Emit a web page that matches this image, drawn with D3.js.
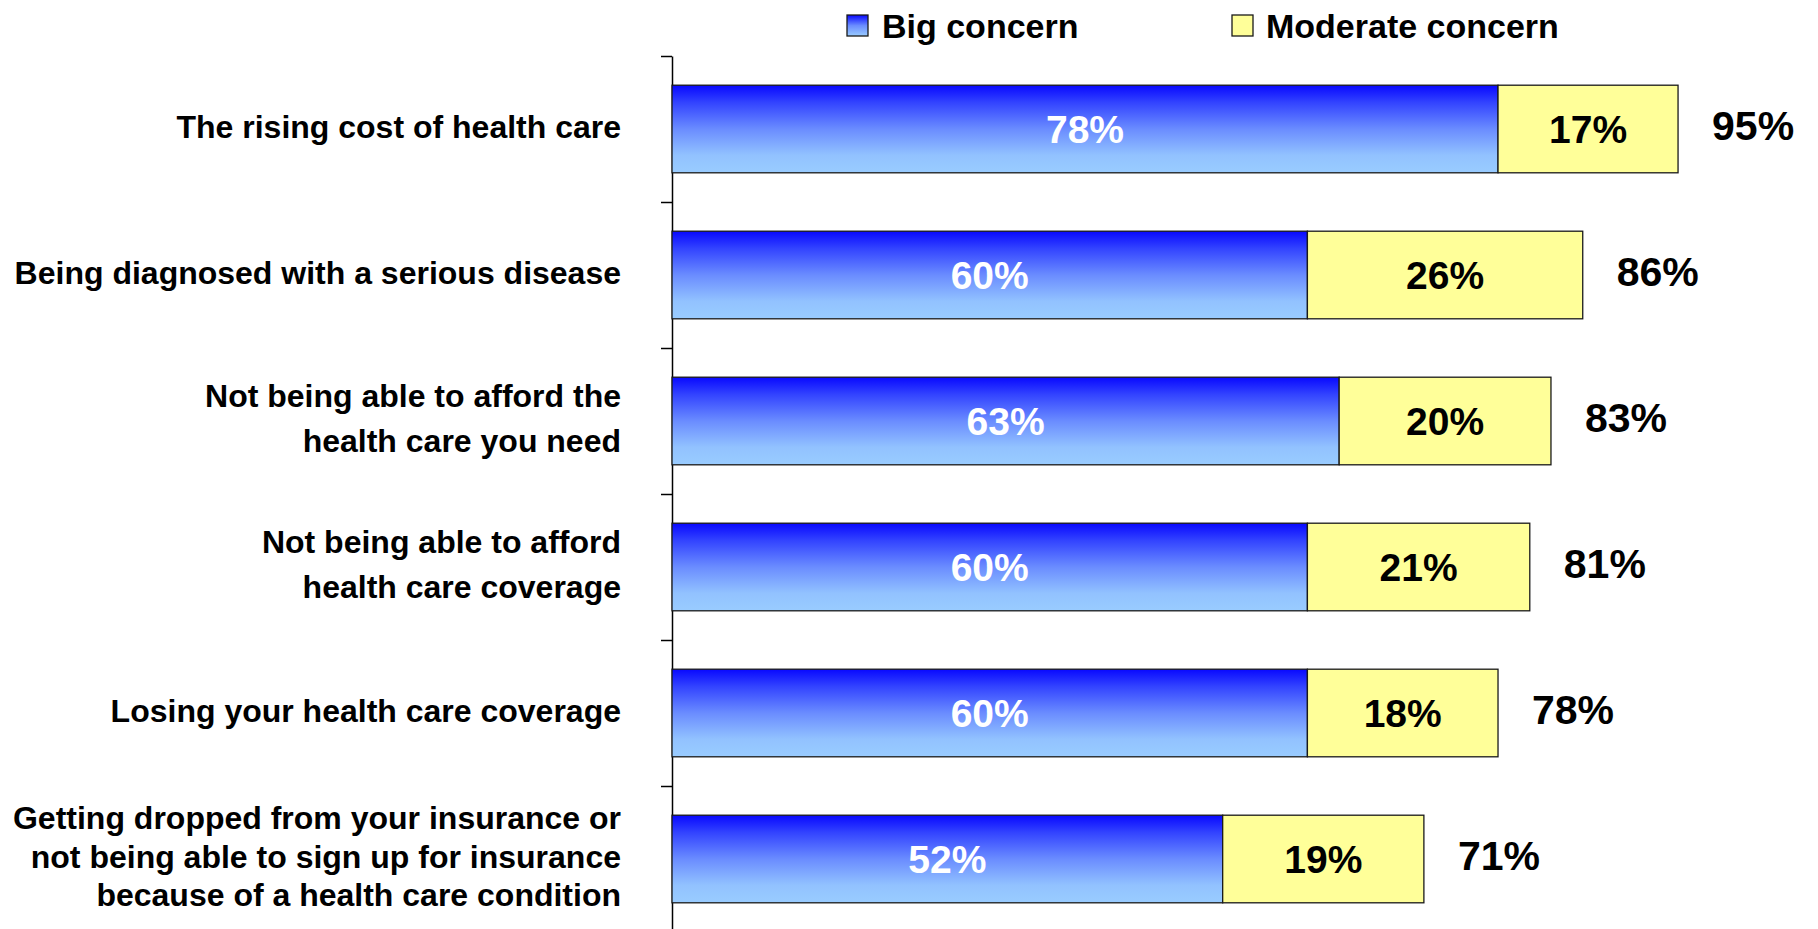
<!DOCTYPE html>
<html>
<head>
<meta charset="utf-8">
<script src="https://cdn.jsdelivr.net/npm/d3@7"></script>
<style>
  html, body { margin: 0; padding: 0; background: #fff; }
  svg { display: block; font-family: "Liberation Sans", Arial, sans-serif; font-weight: bold; }
</style>
</head>
<body>
<svg id="chart" width="1818" height="929"></svg>
<script>
// ---- data ----
const categories = [
  "The rising cost of health care",
  "Being diagnosed with a serious disease",
  "Not being able to afford the health care you need",
  "Not being able to afford health care coverage",
  "Losing your health care coverage",
  "Getting dropped from your insurance or not being able to sign up for insurance because of a health care condition"
];
const categoryLines = [
  ["The rising cost of health care"],
  ["Being diagnosed with a serious disease"],
  ["Not being able to afford the", "health care you need"],
  ["Not being able to afford", "health care coverage"],
  ["Losing your health care coverage"],
  ["Getting dropped from your insurance or", "not being able to sign up for insurance", "because of a health care condition"]
];
const bigConcern = [78, 60, 63, 60, 60, 52];
const moderateConcern = [17, 26, 20, 21, 18, 19];
const totals = [95, 86, 83, 81, 78, 71];
const seriesNames = ["Big concern", "Moderate concern"];

// ---- layout ----
const svg = d3.select("#chart");
const axisX = 672, axisTop = 56, axisBottom = 932;

const x = d3.scaleLinear().domain([0, 100]).range([axisX, axisX + 1059]);
const y = d3.scaleBand().domain(categories).range([axisTop, axisBottom])
  .paddingInner(0.4).paddingOuter(0.2);
const yIdx = d3.scaleLinear().domain([0, categories.length]).range([axisTop, axisBottom]);

// gradient
const defs = svg.append("defs");
const grad = defs.append("linearGradient").attr("id", "blueGrad")
  .attr("x1", 0).attr("y1", 0).attr("x2", 0).attr("y2", 1);
[[0, "#0808ff"], [0.2, "#3344ff"], [0.5, "#6a8cff"], [0.8, "#92c2ff"], [1, "#99ccff"]]
  .forEach(([o, c]) => grad.append("stop").attr("offset", o).attr("stop-color", c));

// axis
svg.append("g")
  .attr("transform", `translate(${axisX},0)`)
  .call(d3.axisLeft(yIdx).tickValues(d3.range(0, categories.length + 1))
    .tickFormat("").tickSize(11).tickSizeOuter(0))
  .call(g => g.selectAll("path, line").attr("stroke", "#000").attr("stroke-width", 1.5));

const rows = svg.append("g").selectAll("g.row")
  .data(categories.map((c, i) => ({ c, i, big: bigConcern[i], mod: moderateConcern[i], tot: totals[i], lines: categoryLines[i] })))
  .join("g").attr("class", "row");

// big concern bars
rows.append("rect")
  .attr("x", d => x(0))
  .attr("y", d => y(d.c))
  .attr("width", d => x(d.big) - x(0))
  .attr("height", y.bandwidth())
  .attr("fill", "url(#blueGrad)")
  .attr("stroke", "#1a1a1a").attr("stroke-width", 1.3);

// moderate concern bars
rows.append("rect")
  .attr("x", d => x(d.big))
  .attr("y", d => y(d.c))
  .attr("width", d => x(d.big + d.mod) - x(d.big))
  .attr("height", y.bandwidth())
  .attr("fill", "#ffff99")
  .attr("stroke", "#1a1a1a").attr("stroke-width", 1.3);

// value labels
rows.append("text")
  .attr("x", d => (x(0) + x(d.big)) / 2)
  .attr("y", d => y(d.c) + y.bandwidth() / 2)
  .attr("dy", "0.36em")
  .attr("text-anchor", "middle")
  .attr("fill", "#fff").attr("font-size", 39)
  .text(d => d.big + "%");

rows.append("text")
  .attr("x", d => (x(d.big) + x(d.big + d.mod)) / 2)
  .attr("y", d => y(d.c) + y.bandwidth() / 2)
  .attr("dy", "0.36em")
  .attr("text-anchor", "middle")
  .attr("fill", "#000").attr("font-size", 39)
  .text(d => d.mod + "%");

rows.append("text")
  .attr("x", d => x(d.tot) + 34)
  .attr("y", d => y(d.c) + y.bandwidth() / 2 - 4)
  .attr("dy", "0.36em")
  .attr("text-anchor", "start")
  .attr("fill", "#000").attr("font-size", 41)
  .text(d => d.tot + "%");

// category labels
rows.append("text")
  .attr("text-anchor", "end")
  .attr("font-size", 32)
  .attr("fill", "#000")
  .each(function(d) {
    const t = d3.select(this);
    const cy = y(d.c) + y.bandwidth() / 2 - 3;
    const n = d.lines.length;
    const lineH = n >= 3 ? 38.8 : 45.5;
    d.lines.forEach((ln, k) => {
      t.append("tspan")
        .attr("x", 621)
        .attr("y", cy + (k - (n - 1) / 2) * lineH)
        .attr("dy", "0.36em")
        .text(ln);
    });
  });

// legend
const legend = svg.append("g");
const legendItems = [
  { name: seriesNames[0], fill: "url(#legGrad)", sx: 847, tx: 882 },
  { name: seriesNames[1], fill: "#ffff99", sx: 1232, tx: 1266 }
];
const lg = defs.append("linearGradient").attr("id", "legGrad")
  .attr("x1", 0).attr("y1", 0).attr("x2", 0).attr("y2", 1);
[[0, "#0808ff"], [0.5, "#6a8cff"], [1, "#99ccff"]]
  .forEach(([o, c]) => lg.append("stop").attr("offset", o).attr("stop-color", c));

legend.selectAll("rect").data(legendItems).join("rect")
  .attr("x", d => d.sx).attr("y", 15).attr("width", 21).attr("height", 21)
  .attr("fill", d => d.fill).attr("stroke", "#1a1a1a").attr("stroke-width", 1.3);
legend.selectAll("text").data(legendItems).join("text")
  .attr("x", d => d.tx).attr("y", 26).attr("dy", "0.36em")
  .attr("font-size", 34).attr("fill", "#000")
  .text(d => d.name);
</script>
</body>
</html>
